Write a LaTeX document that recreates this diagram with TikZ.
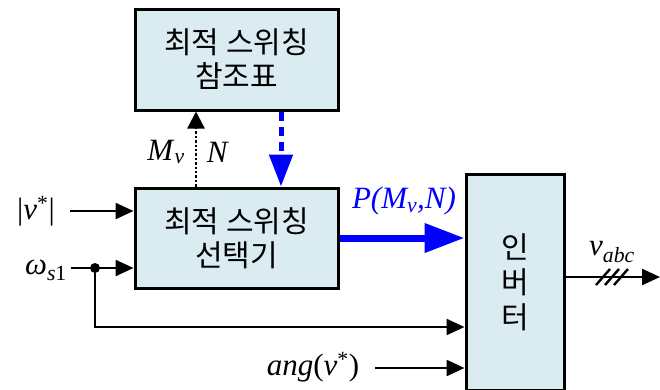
\documentclass[tikz,border=0pt]{standalone}
\usepackage{fontspec}
\setmainfont{Liberation Serif}
\newfontfamily\kr{Noto Sans CJK KR}
\usetikzlibrary{arrows.meta}
\definecolor{boxfill}{RGB}{218,236,242}
\definecolor{myblue}{RGB}{0,0,255}
\begin{document}
\begin{tikzpicture}[x=1pt,y=-1pt,
  blk/.style={draw,line width=3pt,fill=boxfill,inner sep=0pt,font=\kr\fontsize{30}{34}\selectfont,align=center},
  conn/.style={line width=2.4pt,-{Triangle[length=18pt,width=16pt]}},
  lbl/.style={font=\fontsize{31}{33}\selectfont,inner sep=0pt}]
\useasboundingbox (0,0) rectangle (660,389);
% blocks
\node[blk,minimum width=203pt,minimum height=101pt] (lut) at (236.5,59.5) {최적 스위칭\\참조표};
\node[blk,minimum width=203pt,minimum height=100pt] (sel) at (236.5,238) {최적 스위칭\\선택기};
\node[blk,minimum width=98pt,minimum height=216pt,font=\kr\fontsize{30}{35}\selectfont] (inv) at (515,282) {인\\버\\터};
% labels
\node[lbl] (vin) at (36,211) {|\textit{v}\textsuperscript{*}|};
\node[lbl] (win) at (46,270) {\textit{ω}\textsubscript{\textit{s}1}};
\node[lbl] (ang) at (313,367) {\textit{ang}(\textit{v}\textsuperscript{*})};
\node[lbl] (mv) at (166,152) {\textit{M}\textsubscript{\textit{v}}};
\node[lbl] (nn) at (218,152) {\textit{N}};
\node[lbl,text=myblue] (pl) at (404,201) {\textit{P(M\textsubscript{v},N)}};
\node[lbl] (vabc) at (612,252) {\textit{v}\textsubscript{\textit{abc}}};
% coordinates
\coordinate (v1) at (70,211);
\coordinate (w1) at (71,268);
\coordinate (dot) at (95,268);
\coordinate (a1) at (375,368);
\coordinate (o1) at (564,277);
\coordinate (o2) at (660,277);
% connectors
\draw[conn] (v1) -- (v1 -| sel.west);
\draw[line width=2.4pt] (w1) -- (dot);
\draw[conn] (dot) -- (dot -| sel.west);
\fill (dot) circle (5pt);
\draw[conn] (dot) |- (inv.west |- 0,327);
\draw[conn] (a1) -- (a1 -| inv.west);
\draw[conn] (o1) -- (o2);
\foreach \xx in {603,612,621} \draw[line width=2.4pt] (\xx-7,285) -- (\xx+7,269);
\draw[line width=2.4pt,dotted,-{Triangle[length=17pt,width=17pt]}] (sel.north -| 196,0) -- (lut.south -| 196,0);
\draw[myblue,line width=5pt,dash pattern=on 9pt off 6pt,-{Triangle[length=32pt,width=23pt,sep=0pt]}] (lut.south -| 281,0) -- (sel.north -| 281,0);
\draw[myblue,line width=7pt,-{Triangle[length=40pt,width=28pt]}] (sel.east) -- (inv.west |- sel.east);
\end{tikzpicture}
\end{document}
